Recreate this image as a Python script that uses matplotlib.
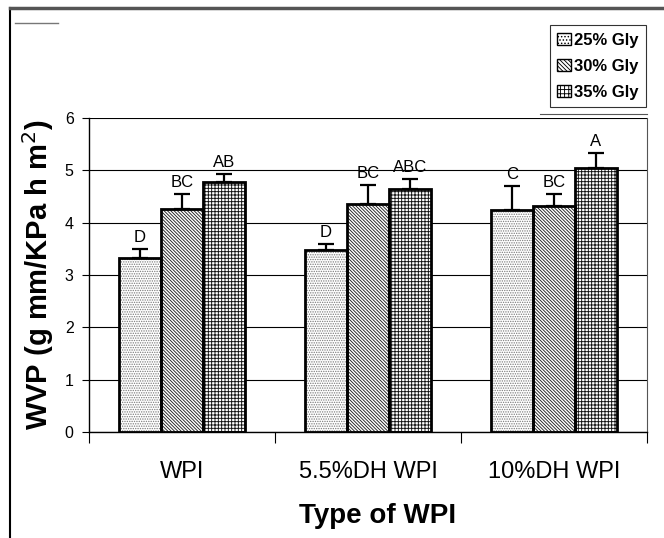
import numpy as np
import matplotlib
matplotlib.use("Agg")
import matplotlib.pyplot as plt
from matplotlib.patches import Patch
from matplotlib.lines import Line2D

plt.rcParams['font.family'] = ['Liberation Sans', 'DejaVu Sans']
plt.rcParams['hatch.linewidth'] = 0.65

# data
groups = ['WPI', '5.5%DH WPI', '10%DH WPI']
series = ['25% Gly', '30% Gly', '35% Gly']
wvp_25 = [3.33, 3.47, 4.24]
wvp_30 = [4.27, 4.35, 4.32]
wvp_35 = [4.77, 4.64, 5.05]
err_25 = [0.16, 0.12, 0.46]
err_30 = [0.27, 0.37, 0.23]
err_35 = [0.16, 0.19, 0.28]
lbl_25 = ['D', 'D', 'C']
lbl_30 = ['BC', 'BC', 'BC']
lbl_35 = ['AB', 'ABC', 'A']

values = [wvp_25, wvp_30, wvp_35]
errors = [err_25, err_30, err_35]
letters = [lbl_25, lbl_30, lbl_35]
hatches = ['.' * 7, '\\' * 10, '+' * 5]
hatch_colors = ['#7a7a7a', '#222222', '#111111']

fig = plt.figure(figsize=(6.64, 5.38), dpi=100)
ax = fig.add_axes([89 / 664, 106 / 538, (647 - 89) / 664, (432 - 118) / 538])

x = np.arange(len(groups))
w = 42 / 186

for i in range(3):
    pos = x + (i - 1) * w
    # hatch layer, then black outline on top
    ax.bar(pos, values[i], w, color='white', edgecolor=hatch_colors[i],
           hatch=hatches[i], linewidth=0, zorder=2)
    ax.bar(pos, values[i], w, fill=False, edgecolor='black', linewidth=2, zorder=3)
    ax.errorbar(pos, values[i], yerr=[np.zeros(3), errors[i]], fmt='none',
                ecolor='black', elinewidth=1.6, capsize=6, capthick=1.6, zorder=4)
    for p, v, e, t in zip(pos, values[i], errors[i], letters[i]):
        ax.annotate(t, (p, v + e), xytext=(0, 3), textcoords='offset points',
                    ha='center', va='bottom', fontsize=12)

ax.set_xlim(-0.5, 2.5)
ax.set_ylim(0, 6)
ax.set_yticks(range(7))
ax.yaxis.grid(True, color='black', linewidth=0.8, zorder=0)
ax.set_axisbelow(True)

ax.set_xticks([-0.5, 0.5, 1.5, 2.5])
ax.set_xticklabels([])
ax.set_xticks(x, minor=True)
ax.set_xticklabels(groups, minor=True, fontsize=17)
ax.tick_params(axis='x', which='minor', length=0, pad=21)
ax.tick_params(axis='x', which='major', length=8, direction='out')
ax.tick_params(axis='y', length=5, direction='out', labelsize=11.5, pad=6)

ax.spines['top'].set_visible(False)
ax.spines['right'].set_color('#555555')
ax.spines['right'].set_linewidth(0.8)
ax.spines['left'].set_linewidth(1.0)
ax.spines['bottom'].set_linewidth(1.0)

ax.set_xlabel('Type of WPI', fontsize=20, fontweight='bold')
ax.xaxis.set_label_coords(0.518, -0.225)
ax.set_ylabel('WVP (g mm/KPa h m$^2$)', fontsize=21, fontweight='bold', labelpad=6)

handles = [Patch(facecolor='white', edgecolor='black', hatch=h, linewidth=1)
           for h in ['.' * 5, '\\' * 8, '+' * 4]]
leg = fig.legend(handles, series, loc='upper right',
                 bbox_to_anchor=(646 / 664, 1 - 25 / 538),
                 fontsize=12, frameon=True, fancybox=False,
                 handlelength=0.8, handleheight=0.8, handletextpad=0.2,
                 borderpad=0.45, labelspacing=0.65, borderaxespad=0)
leg.get_frame().set_edgecolor('black')
leg.get_frame().set_linewidth(0.8)
for t in leg.get_texts():
    t.set_fontweight('bold')

# scan frame lines
fig.add_artist(Line2D([10 / 664, 10 / 664], [0, 1 - 8 / 538], color='black', lw=1.5))
fig.add_artist(Line2D([10 / 664, 1], [1 - 8 / 538, 1 - 8 / 538], color='#555555', lw=2.5))
fig.add_artist(Line2D([15 / 664, 58 / 664], [1 - 23 / 538, 1 - 23 / 538], color='#777777', lw=1))
fig.add_artist(Line2D([540 / 664, 647 / 664], [1 - 114 / 538, 1 - 114 / 538], color='#555555', lw=0.8))

fig.savefig('out.png', dpi=100)
